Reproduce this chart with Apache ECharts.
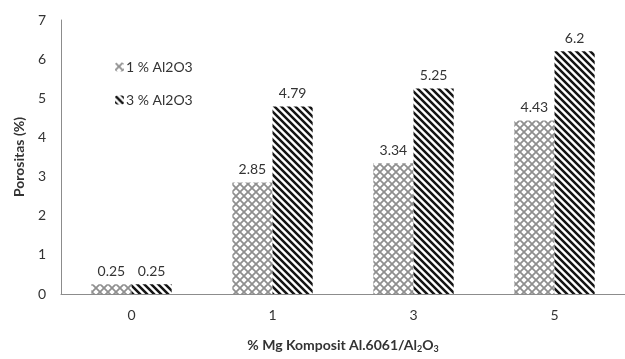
<!DOCTYPE html>
<html>
<head>
<meta charset="utf-8">
<script src="https://cdn.jsdelivr.net/npm/echarts@6/dist/echarts.min.js"></script>
<style>html,body{margin:0;padding:0;background:#fff;}#c{width:625px;height:359px;}</style>
</head>
<body>
<div id="c"></div>
<script>
const categories = ['0', '1', '3', '5'];
const series1Name = '1 % Al2O3';
const series2Name = '3 % Al2O3';
const series1Values = [0.25, 2.85, 3.34, 4.43];
const series2Values = [0.25, 4.79, 5.25, 6.2];
const yTicks = [0, 1, 2, 3, 4, 5, 6, 7];

function crossHatch() {
  const s = 8, c = document.createElement('canvas');
  c.width = s; c.height = s;
  const g = c.getContext('2d');
  g.fillStyle = '#ffffff'; g.fillRect(0, 0, s, s);
  g.strokeStyle = '#8f8f8f'; g.lineWidth = 1.8;
  g.beginPath();
  g.moveTo(0, 0); g.lineTo(s, s);
  g.moveTo(s, 0); g.lineTo(0, s);
  g.stroke();
  return c;
}
function stripes() {
  const s = 7, c = document.createElement('canvas');
  c.width = s; c.height = s;
  const g = c.getContext('2d');
  g.fillStyle = '#ffffff'; g.fillRect(0, 0, s, s);
  g.strokeStyle = '#141414'; g.lineWidth = 2.5;
  g.beginPath();
  g.moveTo(0, 0); g.lineTo(s, s);
  g.moveTo(-s, 0); g.lineTo(s, 2 * s);
  g.moveTo(0, -s); g.lineTo(2 * s, s);
  g.stroke();
  return c;
}
const pat1 = { image: crossHatch(), repeat: 'repeat' };
const pat2 = { image: stripes(), repeat: 'repeat' };

const font = 'Lato, "Open Sans", sans-serif';
const chart = echarts.init(document.getElementById('c'), null, { renderer: 'canvas' });
chart.setOption({
  animation: false,
  textStyle: { fontFamily: font },
  grid: { left: 61, right: 0, top: 20, bottom: 58, containLabel: false },
  legend: {
    orient: 'vertical', left: 110, top: 55, itemWidth: 9, itemHeight: 9, itemGap: 19,
    textStyle: { fontSize: 14, color: '#333', fontFamily: font, padding: [0, 0, 0, -3] },
    data: [series1Name, series2Name]
  },
  xAxis: {
    type: 'category', data: categories,
    axisLine: { lineStyle: { color: '#8c8c8c', width: 1 } },
    axisTick: { show: false },
    axisLabel: { fontSize: 14, color: '#333', margin: 14 },
    name: '% Mg Komposit Al.6061/Al{s|2}O{s|3}',
    nameLocation: 'middle', nameGap: 43,
    nameTextStyle: {
      fontSize: 14, fontWeight: 'bold', color: '#333',
      rich: { s: { fontSize: 9, fontWeight: 'bold', color: '#333', padding: [8, 0, 0, 0] } }
    }
  },
  yAxis: {
    type: 'value', min: yTicks[0], max: yTicks[yTicks.length - 1], interval: 1,
    axisLine: { show: true, lineStyle: { color: '#8c8c8c', width: 1 } },
    axisTick: { show: false },
    splitLine: { show: false },
    axisLabel: { fontSize: 14, color: '#333', margin: 15 },
    name: 'Porositas (%)', nameLocation: 'middle', nameGap: 31,
    nameTextStyle: { fontSize: 14, fontWeight: 'bold', color: '#333' }
  },
  series: [
    {
      name: series1Name, type: 'bar', data: series1Values,
      barGap: '0%', barCategoryGap: '43%',
      itemStyle: { color: pat1 },
      label: { show: true, position: 'top', distance: 6, fontSize: 14, color: '#333' }
    },
    {
      name: series2Name, type: 'bar', data: series2Values,
      barGap: '0%', barCategoryGap: '43%',
      itemStyle: { color: pat2 },
      label: { show: true, position: 'top', distance: 6, fontSize: 14, color: '#333' }
    }
  ]
});
</script>
</body>
</html>
